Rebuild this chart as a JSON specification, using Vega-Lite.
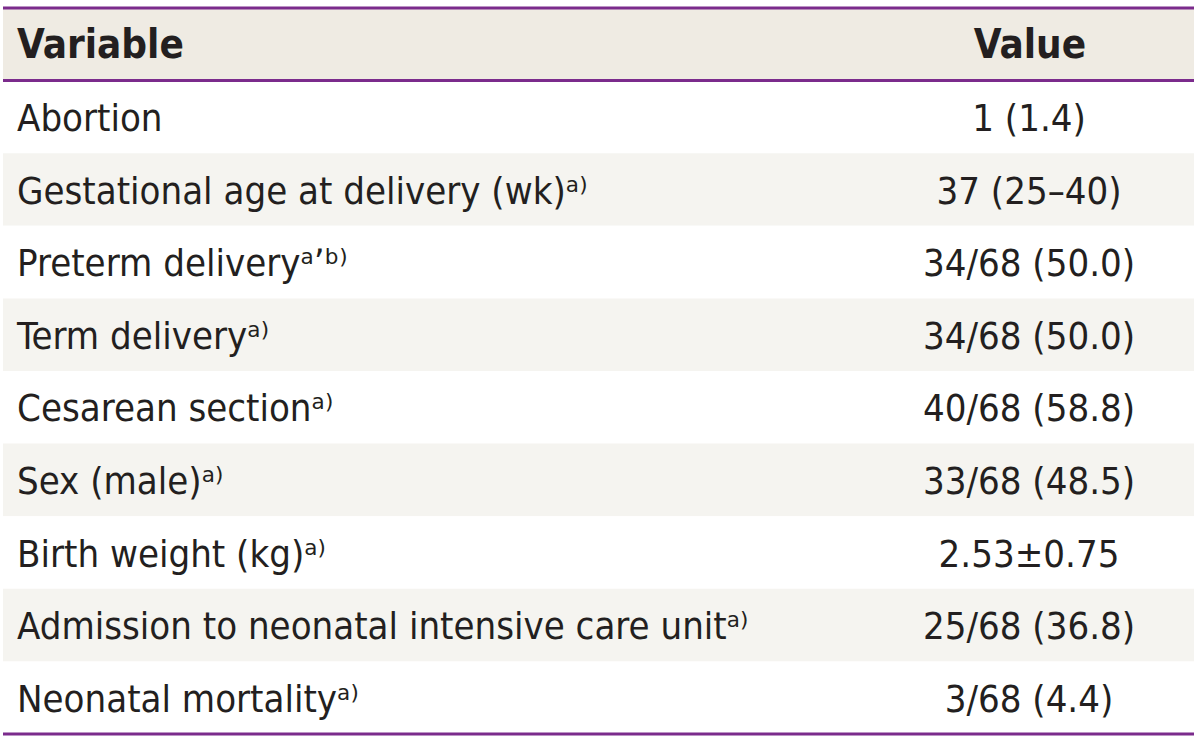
{
  "$schema": "https://vega.github.io/schema/vega-lite/v6.json",
  "width": 1191,
  "height": 726,
  "autosize": {"type": "none"},
  "padding": {"left": 3, "top": 8, "right": 6, "bottom": 4},
  "background": "white",
  "config": {"view": {"stroke": null}},
  "datasets": {
    "rows": [
      {"row": 0, "variable": "Variable", "value": "Value", "shade": "header"},
      {"row": 1, "variable": "Abortion", "value": "1 (1.4)", "shade": "white"},
      {"row": 2, "variable": "Gestational age at delivery (wk)ᵃ⁾", "value": "37 (25–40)", "shade": "shaded"},
      {"row": 3, "variable": "Preterm deliveryᵃʼᵇ⁾", "value": "34/68 (50.0)", "shade": "white"},
      {"row": 4, "variable": "Term deliveryᵃ⁾", "value": "34/68 (50.0)", "shade": "shaded"},
      {"row": 5, "variable": "Cesarean sectionᵃ⁾", "value": "40/68 (58.8)", "shade": "white"},
      {"row": 6, "variable": "Sex (male)ᵃ⁾", "value": "33/68 (48.5)", "shade": "shaded"},
      {"row": 7, "variable": "Birth weight (kg)ᵃ⁾", "value": "2.53±0.75", "shade": "white"},
      {"row": 8, "variable": "Admission to neonatal intensive care unitᵃ⁾", "value": "25/68 (36.8)", "shade": "shaded"},
      {"row": 9, "variable": "Neonatal mortalityᵃ⁾", "value": "3/68 (4.4)", "shade": "white"}
    ],
    "topEdges": [{"row": 0}, {"row": 1}],
    "bottomEdges": [{"row": 9}]
  },
  "layer": [
    {
      "data": {"name": "rows"},
      "mark": {"type": "rect"},
      "encoding": {
        "y": {"field": "row", "type": "ordinal", "axis": null,
              "scale": {"domain": [0,1,2,3,4,5,6,7,8,9], "paddingInner": 0, "paddingOuter": 0}},
        "x": {"value": 0},
        "x2": {"value": 1191},
        "color": {"field": "shade", "type": "nominal", "legend": null,
                  "scale": {"domain": ["header", "white", "shaded"], "range": ["#efebe3", "#ffffff", "#f5f4f0"]}}
      }
    },
    {
      "data": {"name": "topEdges"},
      "mark": {"type": "rule", "color": "#7b2b8c", "strokeWidth": 3},
      "encoding": {
        "y": {"field": "row", "type": "ordinal", "bandPosition": 0, "axis": null}
      }
    },
    {
      "data": {"name": "bottomEdges"},
      "mark": {"type": "rule", "color": "#7b2b8c", "strokeWidth": 3},
      "encoding": {
        "y": {"field": "row", "type": "ordinal", "bandPosition": 1, "axis": null}
      }
    },
    {
      "data": {"name": "rows"},
      "transform": [{"filter": "datum.row > 0"}],
      "mark": {"type": "text", "align": "left", "baseline": "alphabetic", "dy": 14, "fontSize": 38,
               "font": "DejaVu Sans Condensed, Roboto, sans-serif", "color": "#231f20"},
      "encoding": {
        "y": {"field": "row", "type": "ordinal", "axis": null},
        "x": {"value": 14},
        "text": {"field": "variable"}
      }
    },
    {
      "data": {"name": "rows"},
      "transform": [{"filter": "datum.row > 0"}],
      "mark": {"type": "text", "align": "center", "baseline": "alphabetic", "dy": 14, "fontSize": 38,
               "font": "DejaVu Sans Condensed, Roboto, sans-serif", "color": "#231f20"},
      "encoding": {
        "y": {"field": "row", "type": "ordinal", "axis": null},
        "x": {"value": 1026},
        "text": {"field": "value"}
      }
    },
    {
      "data": {"name": "rows"},
      "transform": [{"filter": "datum.row == 0"}],
      "mark": {"type": "text", "align": "left", "baseline": "alphabetic", "dy": 14, "fontSize": 40, "fontWeight": "bold",
               "font": "DejaVu Sans Condensed, Roboto, sans-serif", "color": "#231f20"},
      "encoding": {
        "y": {"field": "row", "type": "ordinal", "axis": null},
        "x": {"value": 14},
        "text": {"field": "variable"}
      }
    },
    {
      "data": {"name": "rows"},
      "transform": [{"filter": "datum.row == 0"}],
      "mark": {"type": "text", "align": "center", "baseline": "alphabetic", "dy": 14, "fontSize": 40, "fontWeight": "bold",
               "font": "DejaVu Sans Condensed, Roboto, sans-serif", "color": "#231f20"},
      "encoding": {
        "y": {"field": "row", "type": "ordinal", "axis": null},
        "x": {"value": 1027},
        "text": {"field": "value"}
      }
    }
  ]
}
